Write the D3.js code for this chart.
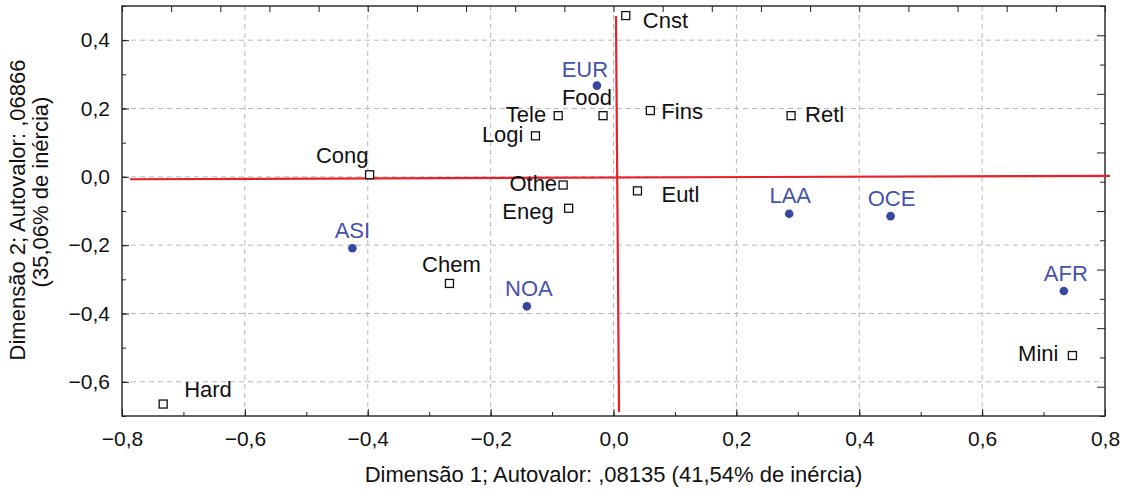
<!DOCTYPE html>
<html>
<head>
<meta charset="utf-8">
<script src="https://cdn.jsdelivr.net/npm/d3@7"></script>
<style>
    body { margin: 0; background: #fff; }
    svg text { font-family: Arial, "Liberation Sans", sans-serif; }
</style>
</head>
<body>
<div id="chart"></div>
<script>

// category points (open squares)
const catNames = ["Cnst", "Food", "Tele", "Fins", "Retl", "Logi", "Cong", "Othe", "Eneg", "Eutl", "Chem", "Hard", "Mini"];
const catX = [0.020, -0.017, -0.090, 0.060, 0.289, -0.127, -0.397, -0.082, -0.073, 0.039, -0.267, -0.733, 0.747];
const catY = [0.472, 0.179, 0.179, 0.194, 0.179, 0.120, 0.006, -0.024, -0.092, -0.041, -0.312, -0.665, -0.523];

// region points (blue dots)
const regNames = ["EUR", "ASI", "NOA", "LAA", "OCE", "AFR"];
const regX = [-0.027, -0.425, -0.141, 0.286, 0.451, 0.733];
const regY = [0.267, -0.209, -0.379, -0.108, -0.115, -0.334];

// hand drawn red axes through the origin
const redLineH = [[-0.787, -0.007], [0.808, 0.003]];
const redLineV = [[0.004, 0.471], [0.009, -0.688]];

const xTicks = [-0.8, -0.6, -0.4, -0.2, 0.0, 0.2, 0.4, 0.6, 0.8];
const yTicks = [0.4, 0.2, 0.0, -0.2, -0.4, -0.6];

const xTitle = "Dimensão 1; Autovalor: ,08135 (41,54% de inércia)";
const yTitle1 = "Dimensão 2; Autovalor: ,06866";
const yTitle2 = "(35,06% de inércia)";

// label placement: [anchor, dx, dy]
const labelPos = {
    Cnst: ["start", 17, 12], Food: ["end", 9, -11], Tele: ["end", -12, 6],
    Fins: ["start", 11, 8], Retl: ["start", 14, 6], Logi: ["end", -12, 6],
    Cong: ["end", -1, -12], Othe: ["end", -6, 6], Eneg: ["end", -15, 11],
    Eutl: ["start", 24, 11], Chem: ["middle", 2, -11], Hard: ["start", 21, -7],
    Mini: ["end", -14, 5],
    EUR: ["middle", -12, -9], ASI: ["middle", 0, -10], NOA: ["middle", 2, -10],
    LAA: ["middle", 1, -11], OCE: ["middle", 1, -10], AFR: ["middle", 2, -10]
};

const W = 1130, H = 490;
const margin = {top: 6, right: 25, bottom: 74, left: 122};
const width = W - margin.left - margin.right;
const height = H - margin.top - margin.bottom;
const fontSize = 22;

const svg = d3.select("#chart").append("svg")
    .attr("width", W)
    .attr("height", H);

const g = svg.append("g")
    .attr("transform", "translate(" + margin.left + "," + margin.top + ")");

const x = d3.scaleLinear().domain([-0.8, 0.8]).range([0, width]);
const y = d3.scaleLinear().domain([-0.7, 0.5]).range([height, 0]);

const fmt = function (d) {
    return d3.format(".1f")(d).replace(".", ",").replace("-", "\u2212");
};

// grid
g.selectAll(".gx").data(xTicks.slice(1, -1)).enter().append("line")
    .attr("x1", d => x(d)).attr("x2", d => x(d))
    .attr("y1", 0).attr("y2", height)
    .attr("stroke", "#b8b8b8").attr("stroke-dasharray", "5,4").attr("stroke-width", 1);

g.selectAll(".gy").data(yTicks).enter().append("line")
    .attr("x1", 0).attr("x2", width)
    .attr("y1", d => y(d)).attr("y2", d => y(d))
    .attr("stroke", "#b8b8b8").attr("stroke-dasharray", "5,4").attr("stroke-width", 1);

// bottom axis, ticks inside
let minorX = d3.range(-8, 9).map(i => i / 10);
g.append("g")
    .attr("transform", "translate(0," + height + ")")
    .call(d3.axisBottom(x).tickValues(minorX).tickSize(-4).tickFormat(""))
    .call(a => a.select(".domain").remove());
g.append("g")
    .attr("transform", "translate(0," + height + ")")
    .call(d3.axisBottom(x).tickValues(xTicks).tickSize(-7).tickPadding(15).tickFormat(fmt))
    .call(a => a.select(".domain").remove())
    .selectAll("text").attr("font-size", 21).attr("fill", "#111");

// left axis, ticks inside
let minorY = d3.range(-7, 6).map(i => i / 10);
g.append("g")
    .call(d3.axisLeft(y).tickValues(minorY).tickSize(-4).tickFormat(""))
    .call(a => a.select(".domain").remove());
g.append("g")
    .call(d3.axisLeft(y).tickValues(yTicks).tickSize(-7).tickPadding(12).tickFormat(fmt))
    .call(a => a.select(".domain").remove())
    .selectAll("text").attr("font-size", 21).attr("fill", "#111");

// top axis ticks (finer spacing)
let topTicks = d3.range(0, 21).map(i => -0.8 + i * 0.08);
g.append("g")
    .call(d3.axisTop(x).tickValues(topTicks).tickSize(-6).tickFormat(""))
    .call(a => a.select(".domain").remove());

// right axis ticks
let rightTicks = d3.range(0, 15).map(i => 0.5 - i * 1.2 / 14);
g.append("g")
    .attr("transform", "translate(" + width + ",0)")
    .call(d3.axisRight(y).tickValues(rightTicks).tickSize(-5).tickFormat(""))
    .call(a => a.select(".domain").remove())
    .selectAll(".tick line").attr("x2", (d, i) => i % 2 ? -8 : -5);

g.selectAll(".tick line").attr("stroke", "#222");

// frame
g.append("rect")
    .attr("width", width).attr("height", height)
    .attr("fill", "none").attr("stroke", "#222").attr("stroke-width", 1.4);

// red lines
const line = d3.line().x(d => x(d[0])).y(d => y(d[1]));
[redLineH, redLineV].forEach(function (l) {
    g.append("path").attr("d", line(l))
        .attr("fill", "none").attr("stroke", "#e8202a").attr("stroke-width", 2.2);
});

// category squares
const cats = catNames.map((n, i) => ({name: n, x: catX[i], y: catY[i]}));
const regs = regNames.map((n, i) => ({name: n, x: regX[i], y: regY[i]}));

g.selectAll(".cat").data(cats).enter().append("rect")
    .attr("x", d => x(d.x) - 4).attr("y", d => y(d.y) - 4)
    .attr("width", 8).attr("height", 8)
    .attr("fill", "#fff").attr("stroke", "#111").attr("stroke-width", 1.3);

g.selectAll(".catl").data(cats).enter().append("text")
    .attr("x", d => x(d.x) + labelPos[d.name][1])
    .attr("y", d => y(d.y) + labelPos[d.name][2])
    .attr("text-anchor", d => labelPos[d.name][0])
    .attr("font-size", fontSize).attr("fill", "#111")
    .text(d => d.name);

// region dots
g.selectAll(".reg").data(regs).enter().append("circle")
    .attr("cx", d => x(d.x)).attr("cy", d => y(d.y))
    .attr("r", 4.3).attr("fill", "#3846a0");

g.selectAll(".regl").data(regs).enter().append("text")
    .attr("x", d => x(d.x) + labelPos[d.name][1])
    .attr("y", d => y(d.y) + labelPos[d.name][2])
    .attr("text-anchor", d => labelPos[d.name][0])
    .attr("font-size", fontSize).attr("fill", "#4553aa")
    .text(d => d.name);

// axis titles
svg.append("text")
    .attr("x", margin.left + width / 2).attr("y", 482)
    .attr("text-anchor", "middle").attr("font-size", fontSize).attr("fill", "#111")
    .text(xTitle);

svg.append("text")
    .attr("transform", "translate(25,210) rotate(-90)")
    .attr("text-anchor", "middle").attr("font-size", fontSize).attr("fill", "#111")
    .text(yTitle1);

svg.append("text")
    .attr("transform", "translate(48,192) rotate(-90)")
    .attr("text-anchor", "middle").attr("font-size", fontSize).attr("fill", "#111")
    .text(yTitle2);

</script>
</body>
</html>
